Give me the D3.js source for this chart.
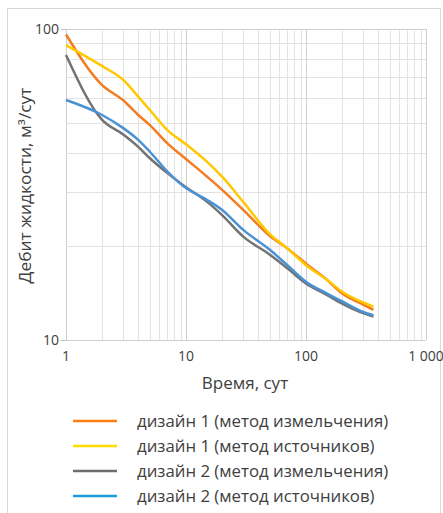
<!DOCTYPE html>
<html>
<head>
<meta charset="utf-8">
<script src="https://cdn.jsdelivr.net/npm/d3@7"></script>
<style>
  body { margin: 0; background: #fff; }
  text { font-family: "Open Sans", "Noto Sans", sans-serif; fill: #404040; }
</style>
</head>
<body>
<div id="chart"></div>
<script>
// time points (days) and flow rates
let days = [1, 2, 3, 4, 5, 7, 10, 15, 20, 30, 50, 70, 100, 150, 200, 300, 365];

let design1Grind  = [96, 66, 59, 52.9, 49.1, 42.9, 38.2, 33.5, 30.4, 26.2, 21.6, 19.7, 17.6, 15.6, 14.1, 13.0, 12.5];
let design1Source = [88.8, 76, 68.6, 60.6, 54.9, 47.3, 42.6, 37.4, 33.5, 27.8, 21.9, 19.7, 17.4, 15.6, 14.3, 13.2, 12.8];
let design2Grind  = [82.5, 51, 45.8, 41.8, 38.4, 34.4, 31.0, 27.8, 25.2, 21.5, 18.8, 17.0, 15.2, 13.95, 13.1, 12.2, 11.9];
let design2Source = [59.1, 52.9, 48.0, 44.0, 40.3, 34.8, 30.8, 28.2, 26.2, 22.6, 19.5, 17.4, 15.4, 14.1, 13.3, 12.3, 12.0];

let seriesNames = [
  "дизайн 1 (метод измельчения)",
  "дизайн 1 (метод источников)",
  "дизайн 2 (метод измельчения)",
  "дизайн 2 (метод источников)"
];
let seriesColors = ["#f47c20", "#ffc800", "#737373", "#4a92d4"];
let legendColors = ["#fb8010", "#ffdd00", "#6e6e6e", "#1a9cd8"];

let xTicks = [1, 10, 100, 1000];
let xTickLabels = ["1", "10", "100", "1 000"];
let yTicks = [10, 100];
let xTitle = "Время, сут";
let yTitle = "Дебит жидкости, м³/сут";

let allSeries = [design1Grind, design1Source, design2Grind, design2Source];

let width = 443, height = 513;
let plotLeft = 66, plotRight = 426, plotTop = 29, plotBottom = 340;

let svg = d3.select("#chart").append("svg")
  .attr("width", width)
  .attr("height", height);

// outer frame
svg.append("rect")
  .attr("x", 7.5).attr("y", 8.5)
  .attr("width", 433).attr("height", 520)
  .attr("fill", "none")
  .attr("stroke", "#d9d9d9");

let xScale = d3.scaleLog().domain([1, 1000]).range([plotLeft, plotRight]);
let yScale = d3.scaleLog().domain([10, 100]).range([plotBottom, plotTop]);

// gridlines: minor first, then majors on top
let xMinor = [];
for (let d = 1; d < 1000; d *= 10) {
  for (let k = 2; k <= 9; k++) xMinor.push(d * k);
}
let yMinor = [];
for (let k = 2; k <= 9; k++) yMinor.push(10 * k);

let grid = svg.append("g");
grid.selectAll(".xminor")
  .data(xMinor)
  .enter()
  .append("line")
  .attr("x1", d => Math.round(xScale(d)) + 0.5)
  .attr("x2", d => Math.round(xScale(d)) + 0.5)
  .attr("y1", plotTop).attr("y2", plotBottom)
  .attr("stroke", "#e3e3e3");

grid.selectAll(".yminor")
  .data(yMinor)
  .enter()
  .append("line")
  .attr("y1", d => Math.round(yScale(d)) + 0.5)
  .attr("y2", d => Math.round(yScale(d)) + 0.5)
  .attr("x1", plotLeft).attr("x2", plotRight)
  .attr("stroke", "#e3e3e3");

grid.selectAll(".xmajor")
  .data(xTicks)
  .enter()
  .append("line")
  .attr("x1", d => Math.round(xScale(d)) + 0.5)
  .attr("x2", d => Math.round(xScale(d)) + 0.5)
  .attr("y1", plotTop).attr("y2", plotBottom)
  .attr("stroke", "#cfcfcf");

grid.selectAll(".ymajor")
  .data(yTicks)
  .enter()
  .append("line")
  .attr("y1", d => Math.round(yScale(d)) + 0.5)
  .attr("y2", d => Math.round(yScale(d)) + 0.5)
  .attr("x1", plotLeft).attr("x2", plotRight)
  .attr("stroke", "#cfcfcf");

// small tick marks at the axis corners like excel
svg.selectAll(".ytick")
  .data(yTicks)
  .enter()
  .append("line")
  .attr("x1", plotLeft - 5).attr("x2", plotLeft)
  .attr("y1", d => Math.round(yScale(d)) + 0.5)
  .attr("y2", d => Math.round(yScale(d)) + 0.5)
  .attr("stroke", "#bfbfbf");

// tick labels
svg.selectAll(".xlab")
  .data(xTicks)
  .enter()
  .append("text")
  .attr("x", d => xScale(d))
  .attr("y", plotBottom + 21)
  .attr("text-anchor", "middle")
  .style("font-size", "14px")
  .text((d, i) => xTickLabels[i]);

svg.selectAll(".ylab")
  .data(yTicks)
  .enter()
  .append("text")
  .attr("x", plotLeft - 7)
  .attr("y", d => yScale(d) + 5)
  .attr("text-anchor", "end")
  .style("font-size", "14px")
  .text(d => d);

// axis titles
svg.append("text")
  .attr("x", 245)
  .attr("y", 389)
  .attr("text-anchor", "middle")
  .style("font-size", "17px")
  .text(xTitle);

svg.append("text")
  .attr("transform", `translate(31,${(plotTop + plotBottom) / 2 + 1}) rotate(-90)`)
  .attr("text-anchor", "middle")
  .attr("textLength", 196)
  .attr("lengthAdjust", "spacingAndGlyphs")
  .style("font-size", "15.5px")
  .text(yTitle);

// series lines
let line = d3.line()
  .x((d, i) => xScale(days[i]))
  .y(d => yScale(d))
  .curve(d3.curveMonotoneX);

svg.append("g")
  .selectAll("path")
  .data(allSeries)
  .enter()
  .append("path")
  .attr("d", d => line(d))
  .attr("fill", "none")
  .attr("stroke", (d, i) => seriesColors[i])
  .attr("stroke-width", 2.5)
  .attr("stroke-linejoin", "round");

// legend
let legend = svg.append("g")
  .selectAll("g")
  .data(seriesNames)
  .enter()
  .append("g")
  .attr("transform", (d, i) => `translate(0,${421 + i * 25})`);

legend.append("line")
  .attr("x1", 73).attr("x2", 117)
  .attr("y1", 0).attr("y2", 0)
  .attr("stroke", (d, i) => legendColors[i])
  .attr("stroke-width", 2.5);

legend.append("text")
  .attr("x", 137)
  .attr("y", 6)
  .style("font-size", "16.8px")
  .text(d => d);
</script>
</body>
</html>
